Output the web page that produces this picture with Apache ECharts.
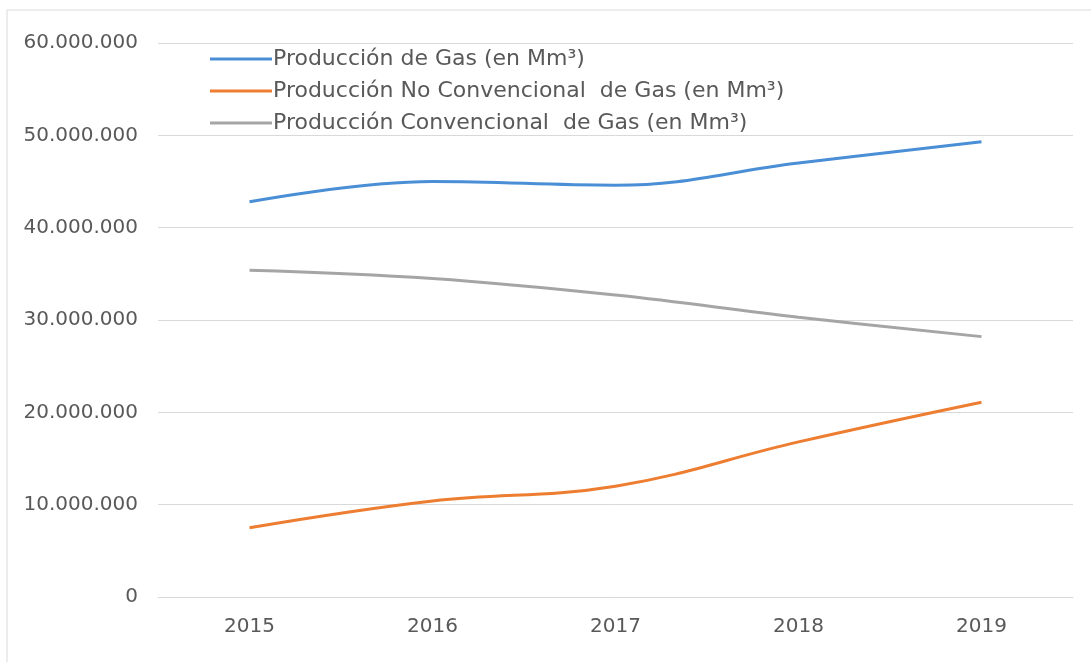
<!DOCTYPE html>
<html>
<head>
<meta charset="utf-8">
<script src="https://cdn.jsdelivr.net/npm/echarts@6/dist/echarts.min.js"></script>
<style>
  html, body { margin: 0; padding: 0; background: #fff; }
  #chart { width: 1091px; height: 662px; }
</style>
</head>
<body>
<div id="chart"></div>
<script>
const years = ['2015', '2016', '2017', '2018', '2019'];
const total = [42800000, 45000000, 44600000, 47000000, 49300000];
const noConv = [7500000, 10400000, 12000000, 16800000, 21100000];
const conv = [35400000, 34500000, 32700000, 30300000, 28200000];
const names = [
  'Producción de Gas (en Mm³)',
  'Producción No Convencional  de Gas (en Mm³)',
  'Producción Convencional  de Gas (en Mm³)'
];
const colors = ['#4a8fd6', '#ed7d31', '#a5a5a5'];

function fmt(v) {
  return String(v).replace(/\B(?=(\d{3})+(?!\d))/g, '.');
}

const font = 'DejaVu Sans, sans-serif';

let option = {
  animation: false,
  color: colors,
  graphic: [{
    type: 'rect',
    shape: { x: 7, y: 10, width: 1200, height: 800 },
    style: { fill: 'none', stroke: '#d9d9d9', lineWidth: 1 },
    silent: true
  }],
  grid: { left: 158, right: 18, top: 43, bottom: 65 },
  legend: {
    orient: 'vertical',
    left: 205,
    top: 42,
    itemWidth: 62,
    itemHeight: 3,
    itemGap: 8,
    icon: 'rect',
    textStyle: { fontFamily: font, fontSize: 22, color: '#595959', lineHeight: 24, padding: [0, 0, 0, -4] },
    data: names
  },
  xAxis: {
    type: 'category',
    data: years,
    boundaryGap: true,
    axisLine: { show: true, lineStyle: { color: '#d9d9d9' } },
    axisTick: { show: false },
    axisLabel: { fontFamily: font, fontSize: 20, color: '#595959', margin: 20 }
  },
  yAxis: {
    type: 'value',
    min: 0,
    max: 60000000,
    interval: 10000000,
    axisLine: { show: false },
    axisTick: { show: false },
    splitLine: { lineStyle: { color: '#d9d9d9' } },
    axisLabel: { fontFamily: font, fontSize: 20, color: '#595959', margin: 20, formatter: fmt }
  },
  series: [
    { name: names[0], type: 'line', data: total, smooth: 0.4, symbol: 'none', lineStyle: { width: 3, color: colors[0] } },
    { name: names[1], type: 'line', data: noConv, smooth: 0.4, symbol: 'none', lineStyle: { width: 3, color: colors[1] } },
    { name: names[2], type: 'line', data: conv, smooth: 0.4, symbol: 'none', lineStyle: { width: 3, color: colors[2] } }
  ]
};

let myChart = echarts.init(document.getElementById('chart'));
window.onresize = myChart.resize;
myChart.setOption(option);
</script>
</body>
</html>
